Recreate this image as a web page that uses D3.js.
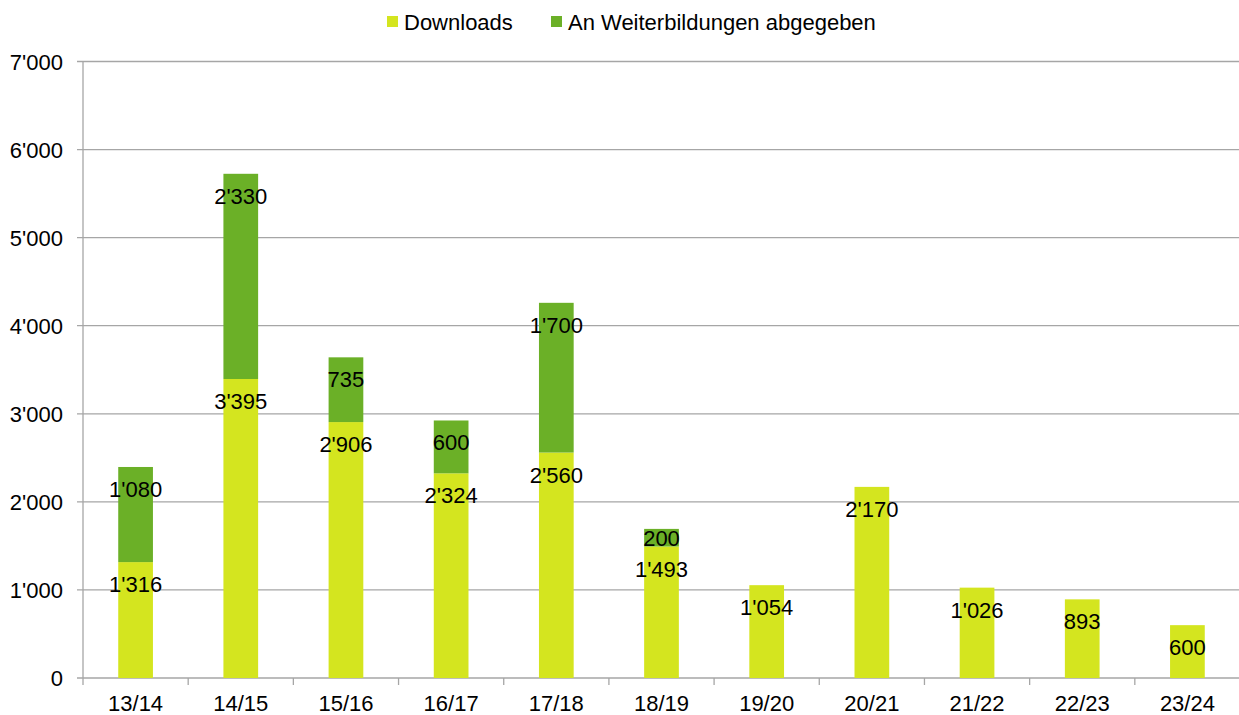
<!DOCTYPE html>
<html>
<head>
<meta charset="utf-8">
<script src="https://cdn.jsdelivr.net/npm/d3@7"></script>
<style>
  body { margin: 0; background: #fff; }
  svg text { font-family: "Liberation Sans", Arial, sans-serif; fill: #000; }
</style>
</head>
<body>
<svg id="chart" width="1239" height="715"></svg>
<script>
// data
var years = ["13/14", "14/15", "15/16", "16/17", "17/18", "18/19", "19/20", "20/21", "21/22", "22/23", "23/24"];
var downloads = [1316, 3395, 2906, 2324, 2560, 1493, 1054, 2170, 1026, 893, 600];
var abgegeben = [1080, 2330, 735, 600, 1700, 200, 0, 0, 0, 0, 0];
var yTicks = [0, 1000, 2000, 3000, 4000, 5000, 6000, 7000];
var seriesNames = ["Downloads", "An Weiterbildungen abgegeben"];
var colors = ["#d4e51f", "#6bb027"];

var loc = d3.formatLocale({ decimal: ".", thousands: "'", grouping: [3], currency: ["", ""] });
var fmt = loc.format(",d");

var svg = d3.select("#chart");
var plotLeft = 83, plotRight = 1240, plotTop = 61.5, plotBottom = 678;

var x = d3.scaleBand().domain(years).range([plotLeft, plotRight]).paddingInner(0.67).paddingOuter(0.335);
var xStep = d3.scaleBand().domain(years).range([plotLeft, plotRight]);
var y = d3.scaleLinear().domain([0, 7000]).range([plotBottom, plotTop]);

// gridlines
svg.append("g").selectAll("line").data(yTicks).enter().append("line")
  .attr("x1", plotLeft - 6).attr("x2", plotRight)
  .attr("y1", function(d) { return y(d); }).attr("y2", function(d) { return y(d); })
  .attr("stroke", "#a6a6a6").attr("stroke-width", 1.3);

// y axis line
svg.append("line").attr("x1", plotLeft).attr("x2", plotLeft).attr("y1", plotTop).attr("y2", plotBottom)
  .attr("stroke", "#a6a6a6").attr("stroke-width", 1.3);

// y labels
svg.append("g").selectAll("text").data(yTicks).enter().append("text")
  .attr("x", 63).attr("y", function(d) { return y(d) + 8; })
  .attr("text-anchor", "end").attr("font-size", 22)
  .text(function(d) { return fmt(d); });

// x ticks
var xt = years.map(function(d) { return xStep(d); }).concat([plotRight]);
svg.append("g").selectAll("line").data(xt).enter().append("line")
  .attr("x1", function(d) { return d; }).attr("x2", function(d) { return d; })
  .attr("y1", plotBottom).attr("y2", plotBottom + 7)
  .attr("stroke", "#a6a6a6").attr("stroke-width", 1.3);

svg.append("g").selectAll("text").data(years).enter().append("text")
  .attr("x", function(d) { return x(d) + x.bandwidth() / 2; })
  .attr("y", 711).attr("text-anchor", "middle").attr("font-size", 22)
  .text(function(d) { return d; });

// stacked bars
var rows = years.map(function(d, i) { return { year: d, Downloads: downloads[i], Ab: abgegeben[i] }; });
var stack = d3.stack().keys(["Downloads", "Ab"])(rows);

stack.forEach(function(layer, li) {
  var g = svg.append("g");
  layer.forEach(function(s) {
    var v = s[1] - s[0];
    if (!v) return;
    var yt = y(s[1]), yb = y(s[0]);
    g.append("rect")
      .attr("x", x(s.data.year)).attr("width", x.bandwidth())
      .attr("y", yt).attr("height", yb - yt)
      .attr("fill", colors[li]);
  });
});

// labels near the top of each segment
stack.forEach(function(layer, li) {
  layer.forEach(function(s) {
    var v = s[1] - s[0];
    if (!v) return;
    var yt = y(s[1]), yb = y(s[0]);
    var cy = Math.min(yt + 22, (yt + yb) / 2);
    svg.append("text")
      .attr("x", x(s.data.year) + x.bandwidth() / 2)
      .attr("y", cy + 8)
      .attr("text-anchor", "middle").attr("font-size", 22)
      .text(fmt(v));
  });
});

// legend
var legX = [387, 551];
seriesNames.forEach(function(n, i) {
  svg.append("rect").attr("x", legX[i]).attr("y", 16).attr("width", 11).attr("height", 11).attr("fill", colors[i]);
  svg.append("text").attr("x", legX[i] + 17).attr("y", 29.5).attr("font-size", 22).text(n);
});
</script>
</body>
</html>
